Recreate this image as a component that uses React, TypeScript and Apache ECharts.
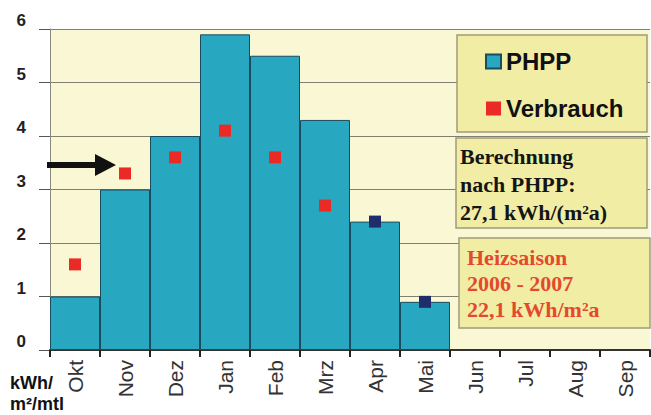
import React, { useEffect, useRef } from "react";
import * as echarts from "echarts";

const months = ["Okt", "Nov", "Dez", "Jan", "Feb", "Mrz", "Apr", "Mai", "Jun", "Jul", "Aug", "Sep"];
const phppValues: (number | null)[] = [1.0, 3.0, 4.0, 5.9, 5.5, 4.3, 2.4, 0.9, null, null, null, null];
const verbrauchValues: (number | null)[] = [1.6, 3.3, 3.6, 4.1, 3.6, 2.7, 2.4, 0.9, null, null, null, null];
const verbrauchColors = ["#EC2A25", "#EC2A25", "#EC2A25", "#EC2A25", "#EC2A25", "#EC2A25", "#1F2D6B", "#1F2D6B", "#EC2A25", "#EC2A25", "#EC2A25", "#EC2A25"];
const yMin = 0;
const yMax = 6;
const yStep = 1;
const legendNames = ["PHPP", "Verbrauch"];
const calcLines = ["Berechnung", "nach PHPP:", "27,1 kWh/(m²a)"];
const seasonLines = ["Heizsaison", "2006 - 2007", "22,1 kWh/m²a"];
const unitLines = ["kWh/", "m²/mtl"];

const SANS = "'Liberation Sans', Arial, sans-serif";
const SERIF = "'Liberation Serif', 'Times New Roman', serif";

export default function App() {
  const ref = useRef<HTMLDivElement>(null);
  useEffect(() => {
    if (!ref.current) return;
    const chart = echarts.init(ref.current, null, { renderer: "svg" });
    const boxFill = "#F1EDA4";
    const boxStroke = "#9E9C7A";
    const option: any = {
      animation: false,
      backgroundColor: "#FFFFFF",
      grid: {
        left: 50,
        right: 1,
        top: 29,
        bottom: 65,
        show: true,
        backgroundColor: "#F9F7D4",
        borderWidth: 0,
      },
      legend: {
        show: true,
        orient: "vertical",
        left: 480,
        top: 44,
        itemWidth: 15,
        itemHeight: 14,
        itemGap: 22,
        z: 10,
        data: [
          { name: legendNames[0], icon: "rect" },
          { name: legendNames[1], icon: "rect", itemStyle: { color: "#EC2A25", borderWidth: 0, opacity: 1 } },
        ],
        textStyle: {
          fontFamily: SANS,
          fontWeight: "bold",
          fontSize: 24,
          lineHeight: 25,
          color: "#111",
        },
      },
      xAxis: {
        type: "category",
        data: months,
        boundaryGap: true,
        axisLine: { show: true, lineStyle: { color: "#333", width: 2 } },
        axisTick: { show: true, length: 7, lineStyle: { color: "#222", width: 2 } },
        axisLabel: {
          rotate: 90,
          interval: 0,
          margin: 10,
          fontFamily: SANS,
          fontSize: 21,
          color: "#333",
        },
        splitLine: { show: false },
      },
      yAxis: {
        type: "value",
        min: yMin,
        max: yMax,
        interval: yStep,
        axisLine: { show: true, lineStyle: { color: "#8a8a80", width: 1 } },
        axisTick: { show: true, length: 11, lineStyle: { color: "#555", width: 1 } },
        axisLabel: {
          margin: 24,
          fontFamily: SANS,
          fontWeight: "bold",
          fontSize: 17,
          color: "#222",
          verticalAlign: "bottom",
        },
        splitLine: { show: true, lineStyle: { color: "#7f7f74", width: 1 } },
      },
      series: [
        {
          name: legendNames[0],
          type: "bar",
          data: phppValues,
          barCategoryGap: "0%",
          itemStyle: { color: "#28A8C0", borderColor: "#1B4B5E", borderWidth: 1 },
          z: 2,
        },
        {
          name: legendNames[1],
          type: "scatter",
          symbol: "rect",
          symbolSize: 12,
          data: verbrauchValues.map((v, i) => ({ value: v, itemStyle: { color: verbrauchColors[i], opacity: 1 } })),
          itemStyle: { color: "#EC2A25", opacity: 1 },
          z: 3,
        },
      ],
      graphic: [
        {
          type: "rect",
          z: 5,
          shape: { x: 457, y: 35, width: 190, height: 97 },
          style: { fill: boxFill, stroke: boxStroke, lineWidth: 1.5 },
        },
        {
          type: "rect",
          z: 5,
          shape: { x: 456, y: 138, width: 191, height: 90 },
          style: { fill: boxFill, stroke: boxStroke, lineWidth: 1.5 },
        },
        ...calcLines.map((t, i) => ({
          type: "text",
          z: 6,
          x: 460,
          y: 156 + i * 28,
          style: {
            text: t,
            fill: "#151515",
            font: `bold 22px ${SERIF}`,
            verticalAlign: "middle",
          },
        })),
        {
          type: "rect",
          z: 5,
          shape: { x: 459, y: 238, width: 191, height: 90 },
          style: { fill: boxFill, stroke: boxStroke, lineWidth: 1.5 },
        },
        ...seasonLines.map((t, i) => ({
          type: "text",
          z: 6,
          x: 467,
          y: 257 + i * 26,
          style: {
            text: t,
            fill: "#E2492F",
            font: `bold 22px ${SERIF}`,
            verticalAlign: "middle",
          },
        })),
        {
          type: "rect",
          z: 6,
          shape: { x: 47, y: 162, width: 50, height: 6 },
          style: { fill: "#111" },
        },
        {
          type: "polygon",
          z: 6,
          shape: { points: [[95, 154], [116, 165], [95, 176]] },
          style: { fill: "#111" },
        },
        ...unitLines.map((t, i) => ({
          type: "text",
          z: 6,
          x: 10,
          y: 383 + i * 21,
          style: {
            text: t,
            fill: "#111",
            font: `bold 18px ${SANS}`,
            verticalAlign: "middle",
          },
        })),
      ],
    };
    chart.setOption(option);
    return () => chart.dispose();
  }, []);
  return <div ref={ref} style={{ position: "fixed", left: 0, top: 0, width: 651, height: 415 }} />;
}
